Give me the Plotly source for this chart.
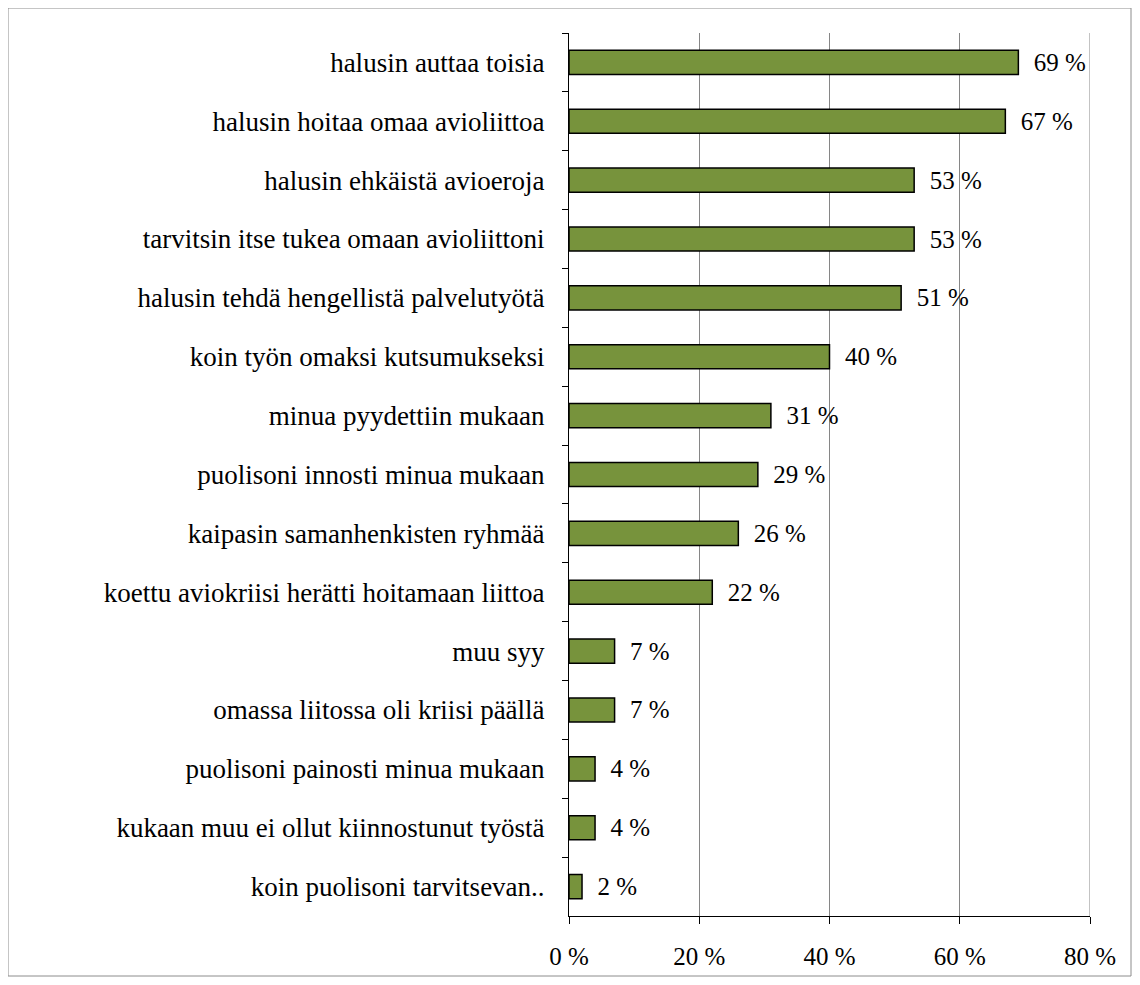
import plotly.graph_objects as go

categories = [
    "halusin auttaa toisia",
    "halusin hoitaa omaa avioliittoa",
    "halusin ehkäistä avioeroja",
    "tarvitsin itse tukea omaan avioliittoni",
    "halusin tehdä hengellistä palvelutyötä",
    "koin työn omaksi kutsumukseksi",
    "minua pyydettiin mukaan",
    "puolisoni innosti minua mukaan",
    "kaipasin samanhenkisten ryhmää",
    "koettu aviokriisi herätti hoitamaan liittoa",
    "muu syy",
    "omassa liitossa oli kriisi päällä",
    "puolisoni painosti minua mukaan",
    "kukaan muu ei ollut kiinnostunut työstä",
    "koin puolisoni tarvitsevan..",
]
values = [69, 67, 53, 53, 51, 40, 31, 29, 26, 22, 7, 7, 4, 4, 2]
x_ticks = [0, 20, 40, 60, 80]
x_tick_labels = ["0 %", "20 %", "40 %", "60 %", "80 %"]

FONT = "Liberation Serif, Times New Roman, serif"

W, H = 1124, 969
L, R, T, B = 561, 42, 25, 61
pw = W - L - R
ph = H - T - B

fig = go.Figure(
    go.Bar(
        y=categories,
        x=values,
        orientation="h",
        marker=dict(color="#77933C", line=dict(color="black", width=1.5)),
        width=0.41,
        text=[f"\u00a0\u00a0{v} %" for v in values],
        textposition="outside",
        constraintext="none",
        textfont=dict(family=FONT, size=25, color="black"),
        cliponaxis=False,
    )
)

fig.update_layout(
    width=W,
    height=H,
    margin=dict(l=L, r=R, t=T, b=B, autoexpand=False),
    paper_bgcolor="white",
    plot_bgcolor="white",
    showlegend=False,
    font=dict(family=FONT, size=20, color="black"),
    xaxis=dict(
        range=[0, 80],
        tickvals=x_ticks,
        ticktext=x_tick_labels,
        showgrid=True,
        gridcolor="#868686",
        gridwidth=1,
        showline=True,
        linecolor="black",
        linewidth=1,
        ticks="outside",
        ticklen=7,
        tickcolor="black",
        tickfont=dict(family=FONT, size=25),
        ticklabelstandoff=11,
        zeroline=False,
    ),
    yaxis=dict(
        autorange="reversed",
        showline=True,
        linecolor="black",
        linewidth=1,
        ticks="outside",
        tickson="boundaries",
        ticklen=6,
        tickcolor="black",
        tickfont=dict(family=FONT, size=27),
        showgrid=False,
        ticklabelstandoff=18,
    ),
    shapes=[
        dict(
            type="rect",
            xref="paper",
            yref="paper",
            x0=-L / pw,
            x1=1 + (R - 1) / pw,
            y0=-(B - 1) / ph,
            y1=1 + T / ph,
            line=dict(color="#8c8c8c", width=1),
            fillcolor="rgba(0,0,0,0)",
            layer="below",
        ),
        dict(
            type="line",
            xref="x",
            yref="paper",
            x0=80,
            x1=80,
            y0=0,
            y1=1,
            line=dict(color="#868686", width=1),
        ),
    ],
)

fig.write_html("out.html")
